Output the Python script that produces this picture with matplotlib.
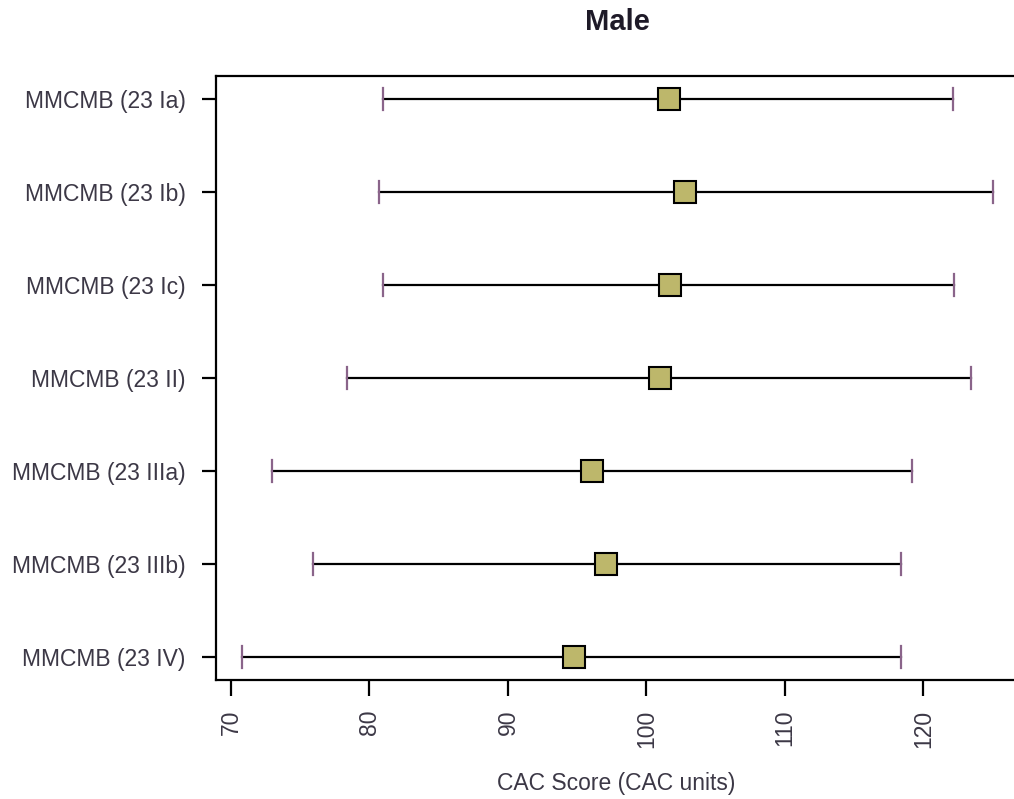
import matplotlib
matplotlib.use("Agg")
import matplotlib.pyplot as plt

# CAC score estimates with interval bounds, one row per model
labels = ["MMCMB (23 Ia)", "MMCMB (23 Ib)", "MMCMB (23 Ic)", "MMCMB (23 II)",
          "MMCMB (23 IIIa)", "MMCMB (23 IIIb)", "MMCMB (23 IV)"]
estimate = [101.6, 102.8, 101.7, 101.0, 96.1, 97.1, 94.8]
lower = [81.0, 80.7, 81.0, 78.4, 73.0, 75.9, 70.8]
upper = [122.1, 125.0, 122.2, 123.4, 119.2, 118.4, 118.4]

plt.rcParams['font.family'] = ['Liberation Sans', 'DejaVu Sans']
text_col = "#3c3846"
fs = 16.5

fig = plt.figure(figsize=(10.14, 7.99), dpi=100)
ax = fig.add_axes([0.213, 0.149, 0.79, 0.756])

n = len(labels)
ypos = list(range(n, 0, -1))

for y, lo, hi, est in zip(ypos, lower, upper, estimate):
    ax.plot([lo, hi], [y, y], color="black", lw=1.6, zorder=2)
    ax.plot([lo, lo], [y - 0.12, y + 0.12], color="#8a648a", lw=1.6, zorder=3)
    ax.plot([hi, hi], [y - 0.12, y + 0.12], color="#8a648a", lw=1.6, zorder=3)

ax.plot(estimate, ypos, linestyle="none", marker="s", markersize=16,
        markerfacecolor="#bdb76b", markeredgecolor="black", markeredgewidth=1.5,
        zorder=4)

ax.set_xlim(68.92, 126.76)
ax.set_ylim(0.75, n + 0.25)
ax.set_yticks(ypos)
ax.set_yticklabels(labels, fontsize=fs, color=text_col)
ax.set_xticks([70, 80, 90, 100, 110, 120])
ax.set_xticklabels(["70", "80", "90", "100", "110", "120"], rotation=90,
                   fontsize=fs, color=text_col)
ax.tick_params(axis="x", length=11.5, width=1.6, pad=10)
ax.tick_params(axis="y", length=10, width=1.6, pad=12)

for s in ax.spines.values():
    s.set_linewidth(1.6)

ax.set_xlabel("CAC Score (CAC units)", fontsize=fs, color=text_col, labelpad=17)
fig.text(0.609, 0.972, "Male", ha="center", va="center", fontsize=21,
         fontweight="bold", color="#1e1a28")

fig.savefig("out.png", dpi=100)
